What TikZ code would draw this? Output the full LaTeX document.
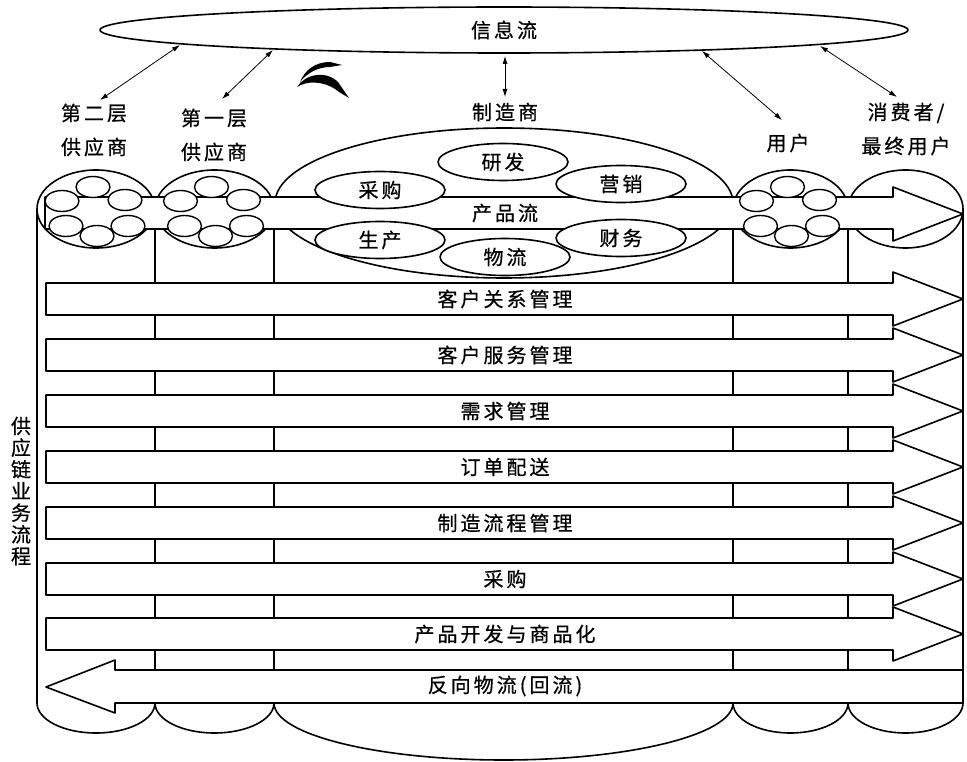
\documentclass[tikz,border=0pt]{standalone}
\usepackage{fontspec}
\newfontfamily\cjk[LetterSpace=15,FakeBold=0.6]{Noto Sans CJK SC}
\newfontfamily\cjkplain[FakeBold=0.6]{Noto Sans CJK SC}
\usetikzlibrary{shapes.geometric,arrows.meta}

\begin{document}
\begin{tikzpicture}[x=1pt,y=-1pt,
  outline/.style={line width=1.6pt, draw=black, line join=round},
  whitebox/.style={outline, fill=white},
  link/.style={line width=0.8pt, {Latex[length=8pt,width=5pt]}-{Latex[length=8pt,width=5pt]}},
  lbl/.style={font=\cjk\fontsize{20}{34}\selectfont, align=center, inner sep=0pt},
  oval/.style={ellipse, whitebox, inner sep=0pt, font=\cjk\fontsize{20}{24}\selectfont},
  dept/.style={oval, minimum width=130pt, minimum height=37pt},
  cell/.style={whitebox, line width=1.4pt},
]
\useasboundingbox (0,0) rectangle (967,762);

% ---------- information flow ----------
\node[ellipse, outline, minimum width=808pt, minimum height=46pt, inner sep=0pt,
      font=\cjk\fontsize{20}{24}\selectfont] (info) at (504,30) {信息流};

% ---------- actor labels ----------
\node[lbl] (tier2) at (94,130) {第二层\\供应商};
\node[lbl] (tier1) at (214,135) {第一层\\供应商};
\node[lbl] (maker) at (505,112) {制造商};
\node[lbl] (user)  at (788,143) {用户};
\node[lbl] (endu)  at (906,129) {消费者/\\最终用户};

% arrow end points between the information flow and the actors
\coordinate (i1) at (180,45);  \coordinate (t2) at (100,100);
\coordinate (i2) at (273,50);  \coordinate (t1) at (222,99);
\coordinate (i3) at (505,56);  \coordinate (mk) at (505,97);
\coordinate (i4) at (702,51);  \coordinate (us) at (782,120);
\coordinate (i5) at (820,46);  \coordinate (eu) at (897,97);
\draw[link] (i1) -- (t2);
\draw[link] (i2) -- (t1);
\draw[link] (i3) -- (mk);
\draw[link] (i4) -- (us);
\draw[link] (i5) -- (eu);

% small ink mark
\fill (300,82) .. controls (305,70) and (315,62) .. (330,62) -- (342,65)
      -- (330,67) .. controls (318,67) and (307,73) .. (300,82) -- cycle;
\fill (297,87) .. controls (305,74) and (326,70) .. (338,82) -- (349,98)
      -- (339,92) .. controls (330,84) and (312,78) .. (297,87) -- cycle;

% ---------- cylinders: side walls ----------
\draw[outline] (37,209) -- (37,703);
\draw[outline] (963,209) -- (963,703);
\foreach \x in {155,274,733,848}
  \draw[outline] (\x,229) -- (\x,703);

% bottoms
\draw[outline] (37,703)  arc[start angle=180, end angle=360, x radius=59pt,    y radius=30pt];
\draw[outline] (155,703) arc[start angle=180, end angle=360, x radius=59.5pt,  y radius=30pt];
\draw[outline] (274,703) arc[start angle=180, end angle=360, x radius=229.5pt, y radius=57pt];
\draw[outline] (733,703) arc[start angle=180, end angle=360, x radius=57.5pt,  y radius=30pt];
\draw[outline] (848,703) arc[start angle=180, end angle=360, x radius=57.5pt,  y radius=30pt];

% tops
\draw[outline] (96,209)    ellipse[x radius=59pt,   y radius=39pt];
\draw[outline] (214.5,209) ellipse[x radius=59.5pt, y radius=39pt];
\draw[outline] (504,203)   ellipse[x radius=229pt,  y radius=75pt];
\draw[outline] (790.5,209) ellipse[x radius=57.5pt, y radius=39pt];
\draw[outline] (905.5,209) ellipse[x radius=57.5pt, y radius=39pt];

% ---------- product flow ----------
\draw[whitebox] (45,197) -- (893,197) -- (893,187) -- (963,214)
  -- (893,241) -- (893,229) -- (45,229) -- cycle;
\node[lbl, font=\cjk\fontsize{20}{24}\selectfont] (pflow) at (505,213) {产品流};

% supplier / user members
\foreach \cx in {0,118.5,694.5}{
  \draw[cell] (93+\cx,187)  ellipse[x radius=17pt, y radius=10.5pt];
  \draw[cell] (62+\cx,201)  ellipse[x radius=17pt, y radius=10.5pt];
  \draw[cell] (125+\cx,200) ellipse[x radius=17pt, y radius=10.5pt];
  \draw[cell] (66+\cx,226)  ellipse[x radius=17pt, y radius=10.5pt];
  \draw[cell] (128+\cx,226) ellipse[x radius=17pt, y radius=10.5pt];
  \draw[cell] (97+\cx,236)  ellipse[x radius=17pt, y radius=10.5pt];
}

% manufacturer departments
\node[dept] (rd)   at (503,162) {研发};
\node[dept] (wl)   at (505,257) {物流};
\node[dept] (cg)   at (380,190) {采购};
\node[dept] (sc)   at (380,240) {生产};
\node[dept] (yx)   at (621,184) {营销};
\node[dept] (cw)   at (621,238) {财务};

% ---------- business processes ----------
\foreach \t/\txt [count=\i] in {283/客户关系管理, 339/客户服务管理, 395/需求管理,
    451/订单配送, 507/制造流程管理, 563/采购, 618/产品开发与商品化}{
  \draw[whitebox] (46,\t) -- (893,\t) -- (893,\t-11) -- (963,\t+16)
    -- (893,\t+43) -- (893,\t+32) -- (46,\t+32) -- cycle;
  \node[lbl] (proc\i) at (505,\t+16) {\txt};
}
\draw[whitebox] (963,670) -- (115,670) -- (115,660) -- (46,687)
  -- (115,713) -- (115,703) -- (963,703) -- cycle;
\node[lbl] (proc8) at (505,686) {反向物流(回流)};

% side caption
\node[font=\cjkplain\fontsize{20}{21.7}\selectfont, align=center, inner sep=0pt]
  (side) at (21,491) {供\\应\\链\\业\\务\\流\\程};
\end{tikzpicture}
\end{document}
